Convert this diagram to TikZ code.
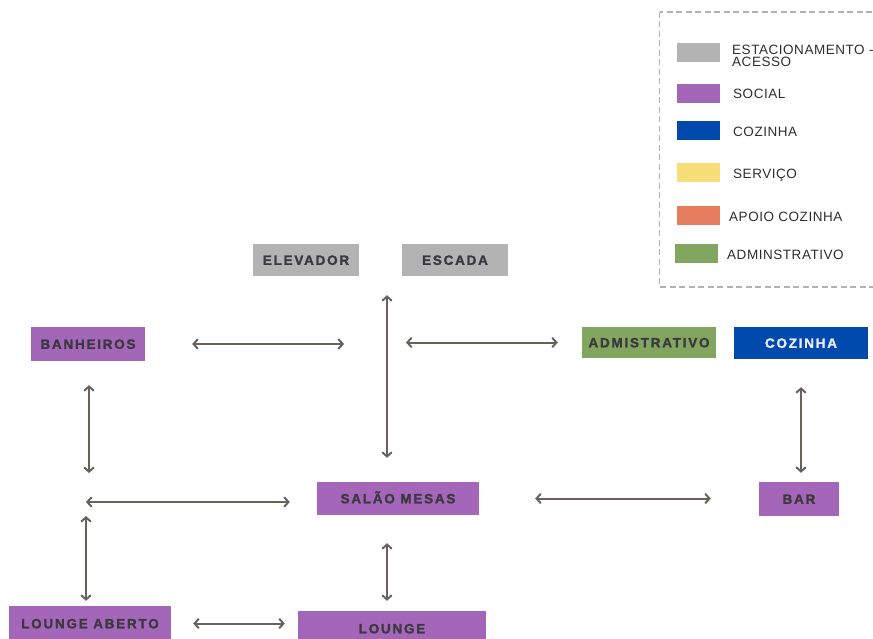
\documentclass[tikz,border=0pt]{standalone}
\usepackage{fontspec}
\setmainfont{Liberation Sans}
\newfontfamily\boxfont[LetterSpace=13,FakeBold=1.6]{Liberation Sans Bold}
\newfontfamily\legendfont[LetterSpace=4]{Liberation Sans}
\usetikzlibrary{arrows.meta}
\definecolor{grayzone}{HTML}{B3B3B3}
\definecolor{socialzone}{HTML}{A466B8}
\definecolor{kitchenzone}{HTML}{0049AD}
\definecolor{servicezone}{HTML}{F7DE78}
\definecolor{supportzone}{HTML}{E57D5E}
\definecolor{adminzone}{HTML}{82A65F}
\definecolor{linkcol}{HTML}{67635C}
\definecolor{boxtext}{HTML}{3C3840}
\definecolor{legendtext}{HTML}{2E2E2E}
\tikzset{
  zone/.style={rectangle, inner sep=0pt, text=boxtext, font=\boxfont\fontsize{13.5}{14}\selectfont,
               text height=9.7pt, text depth=0pt},
  swatch/.style={rectangle, inner sep=0pt, minimum width=43pt, minimum height=19pt},
  legendlabel/.style={anchor=base west, inner sep=0pt, text=legendtext,
               font=\legendfont\fontsize{13.5}{12}\selectfont, align=left},
  link/.style={draw=linkcol, line width=2pt,
               {Straight Barb[length=4pt,width=9pt,line cap=round]}-{Straight Barb[length=4pt,width=9pt,line cap=round]}},
}
\begin{document}
\begin{tikzpicture}[x=1pt,y=-1pt]
\useasboundingbox (0,0) rectangle (873,639);

% legend frame
\draw[draw=black!30, line width=1.3pt, dash pattern=on 6pt off 3.5pt] (659.5,12) rectangle (885,287);
\node[swatch, fill=grayzone]    (lgGray)   at (698.5,52.5) {};
\node[swatch, fill=socialzone]  (lgSocial) at (698.5,93.5) {};
\node[swatch, fill=kitchenzone] (lgKitch)  at (698.5,131) {};
\node[swatch, fill=servicezone] (lgServ)   at (698.5,173) {};
\node[swatch, fill=supportzone] (lgSupp)   at (698.5,215.5) {};
\node[swatch, fill=adminzone]   (lgAdmin)  at (696,253.5) {};
% two-line label: the base anchor sits on the last line
\node[legendlabel] (tGray) at (732,66.5) {ESTACIONAMENTO -\\ACESSO};
\node[legendlabel] (tSocial) at (733,99) {SOCIAL};
\node[legendlabel] (tKitch)  at (733,137) {COZINHA};
\node[legendlabel] (tServ)   at (733,179) {SERVIÇO};
\node[legendlabel] (tSupp)   at (729,222) {APOIO COZINHA};
\node[legendlabel] (tAdmin)  at (727,260) {ADMINSTRATIVO};

% zones
\node[zone, fill=grayzone, minimum width=106pt, minimum height=32pt] (elev) at (306,260) {ELEVADOR};
\node[zone, fill=grayzone, minimum width=106pt, minimum height=32pt] (esc)  at (455,260) {ESCADA};
\node[zone, fill=socialzone, minimum width=114pt, minimum height=34pt] (ban) at (88,344) {BANHEIROS};
\node[zone, fill=adminzone, minimum width=134pt, minimum height=31pt] (adm) at (649,342.5) {ADMISTRATIVO};
\node[zone, fill=kitchenzone, text=white!92!blue, minimum width=134pt, minimum height=32pt] (coz) at (801,343) {COZINHA};
\node[zone, fill=socialzone, minimum width=162pt, minimum height=33pt] (sal) at (398,498.5) {SALÃO MESAS};
\node[zone, fill=socialzone, minimum width=80pt, minimum height=34pt] (bar) at (799,499) {BAR};
\node[zone, fill=socialzone, minimum width=162pt, minimum height=35pt] (la) at (90,623.5) {LOUNGE ABERTO};
\node[zone, fill=socialzone, minimum width=188pt, minimum height=35pt] (lounge) at (392,628.5) {LOUNGE};

% junction points of the circulation
\coordinate (hub) at (387,343);
\coordinate (wj) at (86,502);

% circulation links
\draw[link, shorten <=19pt, shorten >=24pt] (hub |- elev.south) -- (hub |- sal.north);
\draw[link, shorten <=47pt, shorten >=43pt] (ban.east) -- (ban.east -| hub);
\draw[link, shorten <=19pt, shorten >=24pt] (adm.west -| hub) -- (adm.west);
\draw[link, shorten <=28pt, shorten >=9pt] (coz.south) -- (coz.south |- bar.north);
\draw[link, shorten <=56pt, shorten >=48pt] (sal.east) -- (sal.east -| bar.west);
\draw[link, shorten >=27pt] (wj) -- (wj -| sal.west);
\draw[link, shorten <=24pt, shorten >=29pt] ([xshift=1pt]ban.south) -- ([xshift=1pt]ban.south |- wj);
\draw[link, shorten <=14pt, shorten >=5pt] (wj) -- (wj |- la.north);
\draw[link, shorten <=22pt, shorten >=13pt] (la.east) -- (la.east -| lounge.west);
\draw[link, shorten <=28pt, shorten >=10pt] (sal.south -| hub) -- (lounge.north -| hub);
\end{tikzpicture}
\end{document}
